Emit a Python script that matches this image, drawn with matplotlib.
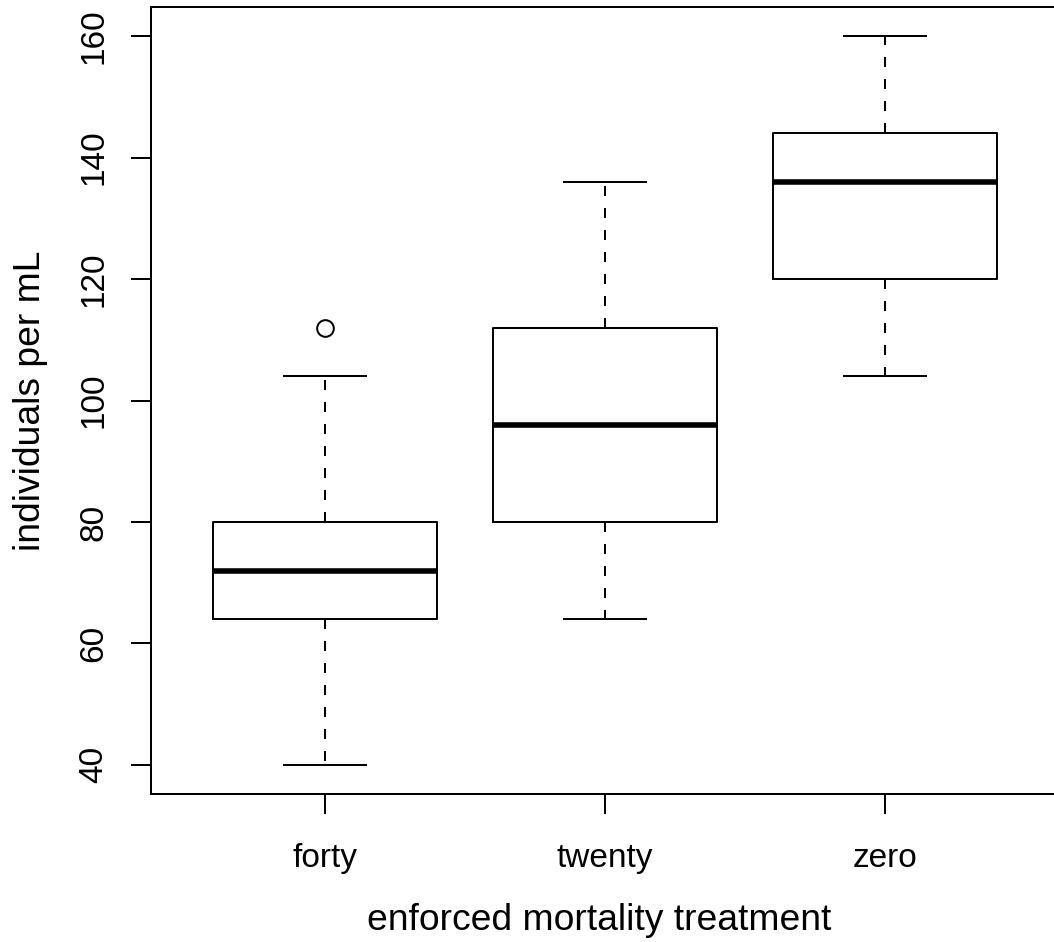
import matplotlib
matplotlib.use("Agg")
import matplotlib.pyplot as plt

categories = ["forty", "twenty", "zero"]
whislo = [40, 64, 104]
q1 = [64, 80, 120]
med = [72, 96, 136]
q3 = [80, 112, 144]
whishi = [104, 136, 160]
outliers = [[112], [], []]
yticks = [40, 60, 80, 100, 120, 140, 160]

plt.rcParams['font.family'] = ['Liberation Sans', 'DejaVu Sans']

W, H = 1054, 942
ax_l, ax_r, ax_t, ax_b = 151.4, 1058.6, 7.0, 794.0
fig = plt.figure(figsize=(W / 100, H / 100), dpi=100)
ax = fig.add_axes([ax_l / W, (H - ax_b) / H, (ax_r - ax_l) / W, (ax_b - ax_t) / H])

stats = []
for i, c in enumerate(categories):
    stats.append(dict(label=c, whislo=whislo[i], q1=q1[i], med=med[i], q3=q3[i],
                      whishi=whishi[i], fliers=outliers[i]))

lw = 1.44
ax.bxp(stats, positions=[1, 2, 3], widths=0.8, capwidths=0.29, showfliers=True,
       boxprops=dict(color='black', linewidth=lw),
       medianprops=dict(color='black', linewidth=4.0, solid_capstyle='butt'),
       whiskerprops=dict(color='black', linewidth=lw, linestyle=(0, (5, 6))),
       capprops=dict(color='black', linewidth=lw),
       flierprops=dict(marker='o', markerfacecolor='none', markeredgecolor='black',
                       markersize=12, markeredgewidth=lw))

ax.set_xlim(0.38, 3.62)
ax.set_ylim(35.2, 164.8)
ax.set_yticks(yticks)
ax.set_yticklabels([str(v) for v in yticks], rotation=90, va='center')
ax.set_xticks([1, 2, 3])
ax.set_xticklabels(categories)

for s in ax.spines.values():
    s.set_linewidth(lw)
ax.tick_params(axis='both', direction='out', length=14.4, width=lw, labelsize=24, colors='black')
ax.tick_params(axis='x', pad=21)
ax.tick_params(axis='y', pad=16)

aw, ah = ax_r - ax_l, ax_b - ax_t
ax.set_xlabel("enforced mortality treatment", fontsize=26.8)
ax.xaxis.label.set_va('baseline')
ax.xaxis.set_label_coords((599.5 - ax_l) / aw, -(930 - ax_b) / ah)
ax.set_ylabel("individuals per mL", fontsize=26.8)
ax.yaxis.set_label_coords((48 - ax_l) / aw, 0.5)

fig.savefig("out.png", dpi=100)
